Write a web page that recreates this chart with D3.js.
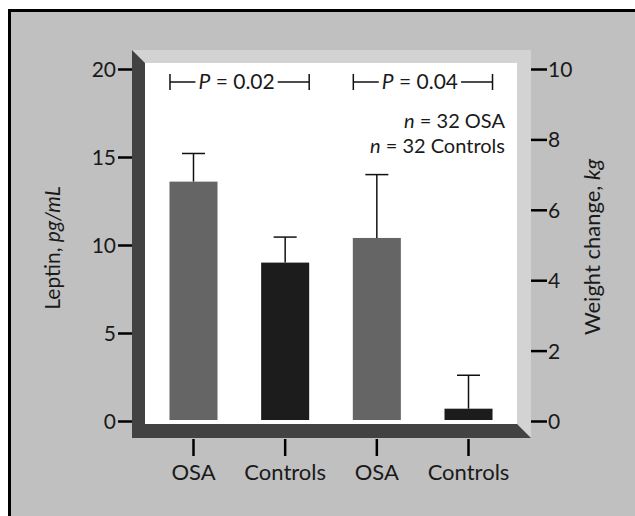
<!DOCTYPE html>
<meta charset="utf-8">
<style>
body { margin: 0; background: #fff; }
svg text { font-family: Lato, "Open Sans", sans-serif; font-weight: 400; fill: #1a1a1a; }
</style>
<svg width="635" height="516"></svg>
<script src="https://cdn.jsdelivr.net/npm/d3@7"></script>
<script>

// data
var groups = ["osaLeptin", "ctlLeptin", "osaWeight", "ctlWeight"];
var groupLabels = ["OSA", "Controls", "OSA", "Controls"];
var leptinValues = [13.6, 9.0];      // pg/mL, left axis
var leptinUpper = [15.2, 10.45];
var weightValues = [5.2, 0.35];      // kg, right axis
var weightUpper = [7.0, 1.3];
var barColors = ["#656565", "#1c1c1c", "#656565", "#1c1c1c"];
var leptinTicks = [0, 5, 10, 15, 20];
var weightTicks = [0, 2, 4, 6, 8, 10];
var pValues = ["0.02", "0.04"];
var nNotes = ["32 OSA", "32 Controls"];

var svg = d3.select("svg");

// plot box (white back wall) and the depth of the frame around it
var box = {left: 145, right: 517, top: 63, bottom: 424},
    depth = 14;

var bars = groups.map(function(g, i) {
  var k = i % 2;
  return {
    id: g,
    label: groupLabels[i],
    axis: i < 2 ? "left" : "right",
    value: i < 2 ? leptinValues[k] : weightValues[k],
    upper: i < 2 ? leptinUpper[k] : weightUpper[k],
    color: barColors[i]
  };
});

var x = d3.scaleBand()
    .domain(groups)
    .range([box.left, box.right])
    .paddingInner(0.476)
    .paddingOuter(0.267);

var yL = d3.scaleLinear().domain([0, 20]).range([421, 69]);
var yR = d3.scaleLinear().domain([0, 10]).range([421, 69]);

// background + outer frame
svg.append("rect")
    .attr("x", 9.5).attr("y", 10.5)
    .attr("width", 700).attr("height", 600)
    .attr("fill", "#c0c0c0")
    .attr("stroke", "#000")
    .attr("stroke-width", 3);

// back wall
svg.append("rect")
    .attr("x", box.left).attr("y", box.top)
    .attr("width", box.right - box.left).attr("height", box.bottom - box.top)
    .attr("fill", "#fff");

var L = box.left - depth + 1, R = box.right + depth, T = box.top - depth + 1, B = box.bottom + depth;

// light top strip and right wall
svg.append("path")
    .attr("d", "M" + L + "," + T + "L" + R + "," + T + "L" + R + "," + B +
               "L" + box.right + "," + box.bottom + "L" + box.right + "," + box.top +
               "L" + box.left + "," + box.top + "Z")
    .attr("fill", "#d3d3d3");

// dark left wall and floor
svg.append("path")
    .attr("d", "M" + L + "," + T + "L" + box.left + "," + box.top +
               "L" + box.left + "," + box.bottom + "L" + box.right + "," + box.bottom +
               "L" + R + "," + B + "L" + L + "," + B + "Z")
    .attr("fill", "#424242");

// bars
svg.selectAll(".bar")
  .data(bars)
  .enter().append("rect")
    .attr("class", "bar")
    .attr("x", function(d) { return x(d.id); })
    .attr("width", x.bandwidth())
    .attr("y", function(d) { return (d.axis == "left" ? yL : yR)(d.value); })
    .attr("height", function(d) {
      var s = d.axis == "left" ? yL : yR;
      return s(0) - s(d.value) - 1;
    })
    .attr("fill", function(d) { return d.color; });

// error bars (upper only)
var err = svg.selectAll(".err")
  .data(bars)
  .enter().append("g")
    .attr("class", "err")
    .attr("stroke", "#111")
    .attr("stroke-width", 1.5);

err.append("line")
    .attr("x1", function(d) { return x(d.id) + x.bandwidth() / 2; })
    .attr("x2", function(d) { return x(d.id) + x.bandwidth() / 2; })
    .attr("y1", function(d) { return (d.axis == "left" ? yL : yR)(d.value); })
    .attr("y2", function(d) { return (d.axis == "left" ? yL : yR)(d.upper); });

err.append("line")
    .attr("x1", function(d) { return x(d.id) + x.bandwidth() / 2 - 11.5; })
    .attr("x2", function(d) { return x(d.id) + x.bandwidth() / 2 + 11.5; })
    .attr("y1", function(d) { return (d.axis == "left" ? yL : yR)(d.upper); })
    .attr("y2", function(d) { return (d.axis == "left" ? yL : yR)(d.upper); });

// left axis
var gl = svg.append("g")
    .attr("transform", "translate(" + L + ",0)")
    .call(d3.axisLeft(yL).tickValues(leptinTicks).tickSize(14).tickPadding(2));
gl.select(".domain").remove();
gl.selectAll(".tick line").attr("stroke", "#000").attr("stroke-width", 2.5);
gl.selectAll(".tick text").attr("font-size", 21).attr("fill", "#1a1a1a").attr("dy", "0.36em");

// right axis
var gr = svg.append("g")
    .attr("transform", "translate(" + R + ",0)")
    .call(d3.axisRight(yR).tickValues(weightTicks).tickSize(16).tickPadding(1));
gr.select(".domain").remove();
gr.selectAll(".tick line").attr("stroke", "#000").attr("stroke-width", 2.5);
gr.selectAll(".tick text").attr("font-size", 21).attr("fill", "#1a1a1a").attr("dy", "0.36em");

// bottom axis
var gb = svg.append("g")
    .attr("transform", "translate(0," + (B + 1) + ")")
    .call(d3.axisBottom(x).tickSize(17).tickPadding(8)
      .tickFormat(function(d, i) { return groupLabels[i]; }));
gb.select(".domain").remove();
gb.selectAll(".tick line").attr("stroke", "#000").attr("stroke-width", 2.5);
gb.selectAll(".tick text").attr("font-size", 22).attr("fill", "#1a1a1a");

// axis titles
var tl = svg.append("text")
    .attr("transform", "translate(60,248) rotate(-90)")
    .attr("text-anchor", "middle")
    .attr("font-size", 21);
tl.append("tspan").text("Leptin, ");
tl.append("tspan").attr("font-style", "italic").text("pg/mL");

var tr = svg.append("text")
    .attr("transform", "translate(600,247) rotate(-90)")
    .attr("text-anchor", "middle")
    .attr("font-size", 22);
tr.append("tspan").text("Weight change, ");
tr.append("tspan").attr("font-style", "italic").text("kg");

// P value brackets
var pairs = [[groups[0], groups[1]], [groups[2], groups[3]]];
pairs.forEach(function(p, i) {
  var x0 = x(p[0]) + 0.5, x1 = x(p[1]) + x.bandwidth(), yb = 82, xm = (x0 + x1) / 2 - 3;
  var g = svg.append("g");
  var t = g.append("text")
      .attr("x", xm).attr("y", yb + 7)
      .attr("text-anchor", "middle")
      .attr("font-size", 21);
  t.append("tspan").attr("font-style", "italic").text("P");
  t.append("tspan").text(" = " + pValues[i]);
  var w = t.node().getComputedTextLength();
  var lines = [
    [x0, yb, xm - w / 2 - 3, yb],
    [xm + w / 2 + 3, yb, x1, yb],
    [x0, yb - 8, x0, yb + 8],
    [x1, yb - 8, x1, yb + 8]
  ];
  g.selectAll("line").data(lines).enter().append("line")
      .attr("x1", function(d) { return d[0]; })
      .attr("y1", function(d) { return d[1]; })
      .attr("x2", function(d) { return d[2]; })
      .attr("y2", function(d) { return d[3]; })
      .attr("stroke", "#111")
      .attr("stroke-width", 1.5);
});

// n notes
nNotes.forEach(function(s, i) {
  var t = svg.append("text")
      .attr("x", 505).attr("y", 128 + i * 25)
      .attr("text-anchor", "end")
      .attr("font-size", 20);
  t.append("tspan").attr("font-style", "italic").text("n");
  t.append("tspan").text(" = " + s);
});

</script>
